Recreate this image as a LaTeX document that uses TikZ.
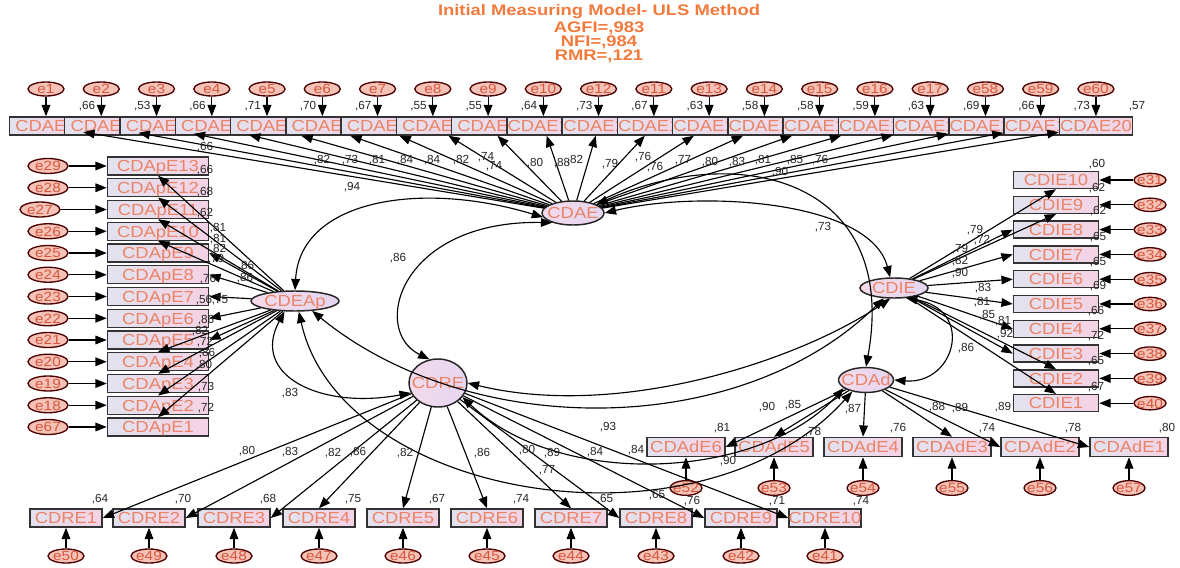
\documentclass[tikz,border=0pt]{standalone}
\usepackage{fontspec}
\setmainfont{Liberation Sans}
\newfontfamily\wfont[FakeStretch=1.15]{Liberation Sans}
\newfontfamily\tfont[FakeStretch=1.2]{Liberation Sans}
\usetikzlibrary{shapes.geometric,arrows.meta}
\definecolor{txt}{HTML}{E98468}
\definecolor{boxL}{HTML}{E2E2EE}
\definecolor{boxR}{HTML}{F4D2E4}
\definecolor{latL}{HTML}{F3DAEA}
\definecolor{latR}{HTML}{E4D6F0}
\definecolor{errfill}{HTML}{F4C2B6}
\definecolor{errtxt}{HTML}{D8563C}
\definecolor{ttlc}{HTML}{F27A3C}
\newcommand\ctr[1]{\smash{\makebox[0pt]{\raisebox{-0.36em}{#1}}}}
\tikzset{
  obs/.style={rectangle, draw=black!80, line width=1.1pt, left color=boxL, right color=boxR,
    text=txt, font=\wfont\fontsize{12}{12}\selectfont, inner sep=0pt, minimum height=13.5pt},
  topbox/.style={obs, minimum width=54.75pt},
  lbox/.style={obs, minimum width=75.75pt},
  rbox/.style={obs, minimum width=63.75pt, minimum height=12.75pt},
  dbox/.style={obs, minimum width=54pt},
  abox/.style={obs, minimum width=58.5pt, minimum height=14.25pt},
  lat/.style={ellipse, draw=black!85, line width=1.1pt, left color=latL, right color=latR,
    text=txt, font=\wfont\fontsize{12}{12}\selectfont, inner sep=0pt},
  err/.style={ellipse, draw=black!70!red, line width=1pt, fill=errfill, text=errtxt,
    font=\wfont\fontsize{10}{10}\selectfont, inner sep=0pt, minimum width=27pt, minimum height=10.5pt},
  arr/.style={-{Triangle[length=8.5pt,width=6.5pt]}, line width=0.85pt, black},
  dbl/.style={{Triangle[length=8.5pt,width=6.5pt]}-{Triangle[length=8.5pt,width=6.5pt]}, line width=0.85pt, black},
  num/.style={font=\fontsize{8.8}{9}\selectfont, text=black!85, inner sep=0pt},
  ttl/.style={font=\tfont\bfseries\fontsize{11.5}{12}\selectfont, text=ttlc, inner sep=0pt}
}
\begin{document}
\begin{tikzpicture}[x=0.75pt,y=-0.75pt]
\useasboundingbox (0,0) rectangle (1180,567);
\fill[white] (0,0) rectangle (1180,567);

% title
\node[ttl] (t1) at (599,12) {Initial Measuring Model- ULS Method};
\node[ttl] (t2) at (599,28) {AGFI=,983};
\node[ttl] (t3) at (599,42) {NFI=,984};
\node[ttl] (t4) at (599,56) {RMR=,121};

% latent variables
\node[lat, minimum width=46.5pt, minimum height=18pt] (CDAE) at (573,213) {\ctr{CDAE}};
\node[lat, minimum width=66pt, minimum height=15pt] (CDEAp) at (295,301) {\ctr{CDEAp}};
\node[lat, minimum width=43.5pt, minimum height=36pt] (CDRE) at (438,383) {\ctr{CDRE}};
\node[lat, minimum width=51pt, minimum height=15pt] (CDIE) at (894,288) {\ctr{CDIE}};
\node[lat, minimum width=41.25pt, minimum height=18.75pt] (CDAd) at (866,380) {\ctr{CDAd}};

% top row CDAE
\foreach \i in {1,...,20}{
  \pgfmathsetmacro\cx{46+55.26*(\i-1)}
  \node[topbox] (A\i) at (\cx,126) {\ctr{CDAE\i}};
}
\foreach \i/\e/\v in {1/e1/66,2/e2/53,3/e3/66,4/e4/71,5/e5/70,6/e6/67,7/e7/55,8/e8/55,9/e9/64,10/e10/73,11/e12/67,12/e11/63,13/e13/58,14/e14/58,15/e15/59,16/e16/63,17/e17/69,18/e58/66,19/e59/73,20/e60/57}{
  \pgfmathsetmacro\cx{46+55.26*(\i-1)}
  \node[err] (ea\i) at (\cx,89) {\ctr{\e}};
  \draw[arr] (ea\i) -- (A\i);
  \node[num] (ra\i) at (\cx+41,106) {,\v};
}
\foreach \i in {1,...,20}{\draw[arr] (CDAE) -- (A\i);}

% left column CDApE
\foreach \k/\e/\ex in {13/e29/48,12/e28/48,11/e27/40,10/e26/48,9/e25/48,8/e24/48,7/e23/48,6/e22/48,5/e21/48,4/e20/48,3/e19/48,2/e18/48,1/e67/48}{
  \pgfmathsetmacro\cy{166+21.75*(13-\k)}
  \node[lbox] (P\k) at (158,\cy) {\ctr{CDApE\k}};
  \node[err, minimum width=30pt, minimum height=11.25pt] (ep\k) at (\ex,\cy) {\ctr{\e}};
  \draw[arr] (ep\k) -- (P\k);
}
\foreach \k in {13,12,11,10}{\draw[arr] (CDEAp) -- (P\k.south);}
\foreach \k in {9,8,7,6,5}{\draw[arr] (CDEAp) -- (P\k.east);}
\foreach \k in {4,3,2,1}{\draw[arr] (CDEAp) -- (P\k.north);}

% right column CDIE
\foreach \k/\e in {10/e31,9/e32,8/e33,7/e34,6/e35,5/e36,4/e37,3/e38,2/e39,1/e40}{
  \pgfmathsetmacro\cy{180+24.8*(10-\k)}
  \node[rbox] (I\k) at (1056,\cy) {\ctr{CDIE\k}};
  \node[err, minimum width=24pt, minimum height=10pt] (ei\k) at (1150,\cy) {\ctr{\e}};
  \draw[arr] (ei\k) -- (I\k);
}
\foreach \k in {10,9}{\draw[arr] (CDIE) -- (I\k.south);}
\foreach \k in {8,7,6,5,4,3}{\draw[arr] (CDIE) -- (I\k.west);}
\foreach \k in {2,1}{\draw[arr] (CDIE) -- (I\k.north);}

% bottom row CDRE
\foreach \k/\x/\e in {1/66/e50,2/149/e49,3/234/e48,4/319/e47,5/403/e46,6/487/e45,7/571/e44,8/656/e43,9/741/e42,10/825/e41}{
  \node[dbox] (R\k) at (\x,518) {\ctr{CDRE\k}};
  \node[err] (er\k) at (\x,556) {\ctr{\e}};
  \draw[arr] (er\k) -- (R\k);
}
\foreach \k in {1,2,3}{\draw[arr] (CDRE) -- (R\k.east);}
\foreach \k in {4,5,6,7}{\draw[arr] (CDRE) -- (R\k.north);}
\foreach \k in {8,9,10}{\draw[arr] (CDRE) -- (R\k.west);}

% CDAd indicators
\foreach \k/\x/\e in {6/686/e52,5/774/e53,4/863/e54,3/952/e55,2/1040/e56,1/1129/e57}{
  \node[abox] (D\k) at (\x,447) {\ctr{CDAdE\k}};
  \node[err, minimum width=24pt, minimum height=11pt] (ed\k) at (\x,488) {\ctr{\e}};
  \draw[arr] (ed\k) -- (D\k);
}
\draw[arr] (CDAd) -- (D6.east);
\foreach \k in {5,4,3}{\draw[arr] (CDAd) -- (D\k.north);}
\foreach \k in {2,1}{\draw[arr] (CDAd) -- (D\k.west);}

% covariances
\draw[dbl] (CDAE.188) .. controls (420,180) and (300,200) .. (CDEAp.north);
\draw[dbl] (CDAE.205) .. controls (400,220) and (370,330) .. (CDRE.110);
\draw[dbl] (CDAE.east) .. controls (700,190) and (870,200) .. (CDIE.110);
\draw[dbl] (CDAE.20) .. controls (740,140) and (900,180) .. (CDAd.north);
\draw[dbl] (CDEAp.225) .. controls (250,375) and (320,410) .. (CDRE.200);
\draw[dbl] (CDEAp.290) .. controls (340,500) and (700,560) .. (CDAd.220);
\draw[dbl] (CDEAp.330) .. controls (470,440) and (740,440) .. (CDIE.225);
\draw[dbl] (CDRE.east) .. controls (620,420) and (800,360) .. (CDIE.250);
\draw[dbl] (CDRE.330) .. controls (560,490) and (760,480) .. (CDAd.200);
\draw[dbl] (CDIE.320) .. controls (975,310) and (955,385) .. (CDAd.east);

% number labels
\foreach \x/\y/\v [count=\n] in {
 205/147/66, 322/160/82, 350/160/73, 377/160/81, 405/160/84, 432/160/84, 461/160/82, 486/157/74, 494/166/74, 535/163/80, 562/163/88, 575/160/82, 610/164/79, 643/157/76, 655/167/76, 683/160/77, 710/162/80, 737/162/83, 763/160/81, 795/160/85, 820/160/76, 780/172/90, 352/187/94, 398/258/86, 823/227/73,
 205/170/66, 205/192/68, 205/213/62, 218/228/81, 218/239/81, 218/249/82, 216/259/79, 246/266/86, 245/278/86, 208/279/76, 204/300/56, 220/300/75, 206/320/86, 200/331/82, 205/342/72, 207/353/86, 204/365/80, 206/387/73, 206/408/72, 290/393/83,
 1097/164/60, 1097/188/62, 1098/211/62, 1098/237/65, 1098/262/65, 1098/286/69, 1096/311/66, 1096/336/72, 1096/361/65, 1096/387/67, 975/230/79, 982/240/72, 960/249/79, 960/261/82, 960/273/90, 983/288/83, 982/302/81, 987/315/85, 1003/321/81, 1005/334/92, 966/348/86, 1003/407/89,
 767/407/90, 793/405/85, 853/409/87, 937/407/88, 960/408/89, 722/428/81, 813/432/78, 728/461/90, 898/428/76, 987/428/74, 1073/428/78, 1167/428/80,
 100/499/64, 183/499/70, 268/499/68, 353/499/75, 437/499/67, 521/499/74, 605/499/65, 692/501/76, 777/501/71, 861/501/74, 657/495/65, 247/451/80, 290/452/83, 333/453/82, 358/452/86, 405/453/82, 482/453/86, 527/450/80, 552/453/89, 547/470/77, 595/452/84, 636/450/84, 608/427/93}{
  \node[num] (L\n) at (\x,\y) {,\v};
}
\end{tikzpicture}
\end{document}
